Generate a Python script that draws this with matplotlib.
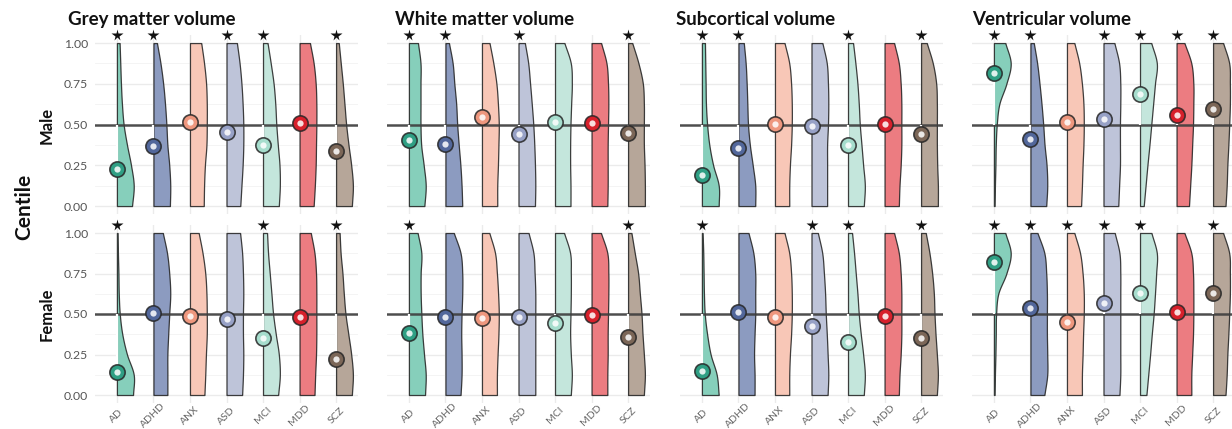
import numpy as np
import matplotlib
matplotlib.use("Agg")
import matplotlib.pyplot as plt
import matplotlib.transforms as mtransforms

plt.rcParams["font.family"] = ["Lato", "DejaVu Sans"]

# ---------------------------------------------------------------- data
groups = ["AD", "ADHD", "ANX", "ASD", "MCI", "MDD", "SCZ"]
measures = ["Grey matter volume", "White matter volume",
            "Subcortical volume", "Ventricular volume"]
sexes = ["Male", "Female"]

# centile levels at which the relative density (violin width) is given
levels = [0.0, 0.125, 0.25, 0.375, 0.5, 0.625, 0.75, 0.875, 1.0]

# median centile per diagnostic group
grey_male_median = [0.225, 0.37, 0.513, 0.456, 0.374, 0.507, 0.34]
grey_female_median = [0.14, 0.508, 0.488, 0.467, 0.35, 0.483, 0.222]
white_male_median = [0.405, 0.38, 0.544, 0.44, 0.513, 0.507, 0.446]
white_female_median = [0.38, 0.483, 0.477, 0.48, 0.446, 0.494, 0.36]
subcort_male_median = [0.19, 0.354, 0.501, 0.493, 0.374, 0.501, 0.442]
subcort_female_median = [0.148, 0.51, 0.48, 0.426, 0.33, 0.49, 0.354]
ventr_male_median = [0.818, 0.409, 0.513, 0.534, 0.687, 0.558, 0.593]
ventr_female_median = [0.823, 0.539, 0.453, 0.57, 0.628, 0.514, 0.632]

# groups flagged as significant
grey_male_sig = ["AD", "ADHD", "ASD", "MCI", "SCZ"]
grey_female_sig = ["AD", "MCI", "SCZ"]
white_male_sig = ["AD", "ADHD", "ASD", "SCZ"]
white_female_sig = ["AD", "SCZ"]
subcort_male_sig = ["AD", "ADHD", "MCI", "SCZ"]
subcort_female_sig = ["AD", "ASD", "MCI", "SCZ"]
ventr_male_sig = ["AD", "ADHD", "ASD", "MCI", "MDD", "SCZ"]
ventr_female_sig = ["AD", "ADHD", "ANX", "ASD", "MCI", "SCZ"]

# relative density of centiles (bottom -> top), one row per group
grey_male_density = [
    [0.90, 1.00, 0.84, 0.60, 0.40, 0.30, 0.24, 0.20, 0.16],
    [0.98, 1.00, 0.94, 0.83, 0.77, 0.69, 0.58, 0.42, 0.21],
    [0.82, 0.84, 0.89, 0.98, 1.00, 1.00, 0.96, 0.84, 0.67],
    [0.82, 0.89, 0.96, 1.00, 1.00, 0.96, 0.89, 0.78, 0.62],
    [0.94, 1.00, 0.98, 0.88, 0.79, 0.73, 0.63, 0.46, 0.27],
    [0.84, 0.91, 0.96, 0.98, 1.00, 1.00, 0.96, 0.84, 0.62],
    [0.94, 1.00, 0.90, 0.74, 0.60, 0.50, 0.40, 0.28, 0.16],
]
grey_female_density = [
    [0.96, 1.00, 0.60, 0.32, 0.17, 0.11, 0.09, 0.06, 0.04],
    [0.83, 0.83, 0.83, 0.88, 0.94, 1.00, 0.94, 0.81, 0.56],
    [0.86, 0.91, 0.95, 1.00, 1.00, 0.98, 0.91, 0.75, 0.52],
    [0.93, 0.98, 1.00, 0.98, 0.98, 1.00, 0.98, 0.93, 0.81],
    [0.90, 1.00, 0.94, 0.76, 0.60, 0.50, 0.40, 0.30, 0.24],
    [0.89, 0.93, 0.98, 1.00, 1.00, 1.00, 0.98, 0.89, 0.67],
    [0.94, 1.00, 0.90, 0.73, 0.56, 0.46, 0.38, 0.27, 0.21],
]
white_male_density = [
    [0.92, 1.00, 0.88, 0.73, 0.69, 0.69, 0.69, 0.69, 0.54],
    [1.00, 0.96, 0.89, 0.79, 0.70, 0.64, 0.53, 0.43, 0.21],
    [0.91, 0.91, 0.95, 0.98, 1.00, 0.95, 0.86, 0.68, 0.45],
    [0.98, 1.00, 0.98, 0.94, 0.88, 0.79, 0.69, 0.58, 0.38],
    [0.92, 0.92, 0.90, 0.90, 0.92, 0.96, 1.00, 0.94, 0.56],
    [0.94, 0.96, 0.96, 0.96, 0.98, 1.00, 0.98, 0.89, 0.57],
    [1.00, 1.00, 0.98, 0.94, 0.94, 0.94, 0.88, 0.62, 0.25],
]
white_female_density = [
    [0.96, 1.00, 0.90, 0.80, 0.74, 0.70, 0.70, 0.74, 0.52],
    [0.90, 0.96, 0.96, 0.94, 0.96, 1.00, 1.00, 0.90, 0.50],
    [0.89, 0.89, 0.93, 0.98, 1.00, 0.96, 0.89, 0.78, 0.44],
    [1.00, 1.00, 1.00, 1.00, 1.00, 1.00, 0.96, 0.89, 0.60],
    [0.94, 1.00, 0.94, 0.90, 0.92, 0.94, 0.94, 0.90, 0.54],
    [0.94, 0.94, 0.96, 0.96, 0.98, 1.00, 1.00, 0.94, 0.56],
    [0.94, 1.00, 0.94, 0.86, 0.80, 0.70, 0.60, 0.40, 0.20],
]
subcort_male_density = [
    [1.00, 1.00, 0.67, 0.44, 0.31, 0.24, 0.22, 0.20, 0.18],
    [1.00, 1.00, 0.85, 0.68, 0.57, 0.53, 0.49, 0.43, 0.32],
    [0.85, 0.85, 0.89, 0.96, 1.00, 1.00, 0.96, 0.85, 0.57],
    [0.93, 0.93, 0.93, 0.93, 0.98, 1.00, 0.98, 0.91, 0.65],
    [0.94, 1.00, 0.90, 0.80, 0.70, 0.64, 0.56, 0.44, 0.30],
    [0.85, 0.89, 0.96, 1.00, 1.00, 1.00, 0.96, 0.85, 0.57],
    [1.00, 1.00, 0.96, 0.94, 0.94, 0.94, 0.90, 0.70, 0.34],
]
subcort_female_density = [
    [1.00, 0.88, 0.52, 0.31, 0.17, 0.12, 0.10, 0.08, 0.04],
    [0.96, 0.96, 0.93, 0.96, 1.00, 1.00, 1.00, 0.89, 0.60],
    [0.85, 0.85, 0.89, 0.96, 1.00, 1.00, 0.96, 0.85, 0.57],
    [0.96, 1.00, 0.96, 0.91, 0.85, 0.81, 0.74, 0.64, 0.38],
    [0.94, 1.00, 0.90, 0.76, 0.64, 0.56, 0.46, 0.36, 0.24],
    [0.85, 0.89, 0.96, 1.00, 1.00, 1.00, 0.96, 0.85, 0.57],
    [0.94, 1.00, 0.94, 0.86, 0.80, 0.76, 0.66, 0.50, 0.28],
]
ventr_male_density = [
    [0.04, 0.06, 0.09, 0.11, 0.17, 0.32, 0.74, 1.00, 0.68],
    [0.94, 1.00, 0.96, 0.84, 0.76, 0.66, 0.54, 0.40, 0.20],
    [0.84, 0.89, 0.93, 0.98, 1.00, 0.98, 0.89, 0.73, 0.44],
    [0.88, 0.93, 0.98, 0.98, 0.98, 1.00, 1.00, 0.93, 0.65],
    [0.22, 0.33, 0.44, 0.56, 0.67, 0.78, 0.89, 1.00, 0.67],
    [0.74, 0.81, 0.88, 0.93, 0.98, 1.00, 1.00, 0.88, 0.47],
    [0.74, 0.81, 0.85, 0.91, 0.96, 1.00, 1.00, 0.96, 0.60],
]
ventr_female_density = [
    [0.04, 0.06, 0.09, 0.11, 0.13, 0.26, 0.74, 1.00, 0.68],
    [0.83, 1.00, 1.00, 0.98, 0.98, 0.98, 0.94, 0.83, 0.42],
    [0.89, 0.89, 0.93, 0.96, 1.00, 1.00, 0.93, 0.78, 0.44],
    [0.95, 1.00, 1.00, 1.00, 1.00, 1.00, 1.00, 0.95, 0.67],
    [0.38, 0.49, 0.60, 0.70, 0.81, 0.89, 0.96, 1.00, 0.68],
    [0.88, 0.88, 0.93, 0.98, 1.00, 1.00, 0.98, 0.88, 0.47],
    [0.74, 0.81, 0.85, 0.91, 0.96, 1.00, 1.00, 0.96, 0.60],
]

violin_colors = ["#86cfbb", "#8c9bc0", "#f8c7b7", "#bec4d9",
                 "#c4e6dc", "#ec7c81", "#b6a699"]
point_colors = ["#2f9f84", "#52679b", "#ee977e", "#97a1c6",
                "#a6ddcd", "#d7202b", "#7b6657"]

medians = {
    (0, 0): grey_male_median, (0, 1): grey_female_median,
    (1, 0): white_male_median, (1, 1): white_female_median,
    (2, 0): subcort_male_median, (2, 1): subcort_female_median,
    (3, 0): ventr_male_median, (3, 1): ventr_female_median,
}
densities = {
    (0, 0): grey_male_density, (0, 1): grey_female_density,
    (1, 0): white_male_density, (1, 1): white_female_density,
    (2, 0): subcort_male_density, (2, 1): subcort_female_density,
    (3, 0): ventr_male_density, (3, 1): ventr_female_density,
}
significant = {
    (0, 0): grey_male_sig, (0, 1): grey_female_sig,
    (1, 0): white_male_sig, (1, 1): white_female_sig,
    (2, 0): subcort_male_sig, (2, 1): subcort_female_sig,
    (3, 0): ventr_male_sig, (3, 1): ventr_female_sig,
}


def smooth_profile(xk, yk, n=240):
    """Cubic Hermite curve through the density knots."""
    xk = np.asarray(xk, float)
    yk = np.asarray(yk, float)
    m = np.empty_like(yk)
    m[1:-1] = (yk[2:] - yk[:-2]) / (xk[2:] - xk[:-2])
    m[0] = (yk[1] - yk[0]) / (xk[1] - xk[0])
    m[-1] = (yk[-1] - yk[-2]) / (xk[-1] - xk[-2])
    x = np.linspace(xk[0], xk[-1], n)
    idx = np.clip(np.searchsorted(xk, x, side="right") - 1, 0, len(xk) - 2)
    h = xk[idx + 1] - xk[idx]
    t = (x - xk[idx]) / h
    h00 = 2 * t**3 - 3 * t**2 + 1
    h10 = t**3 - 2 * t**2 + t
    h01 = -2 * t**3 + 3 * t**2
    h11 = t**3 - t**2
    y = (h00 * yk[idx] + h10 * h * m[idx] + h01 * yk[idx + 1]
         + h11 * h * m[idx + 1])
    return x, np.clip(y, 0.005, None)


# ---------------------------------------------------------------- layout
W, H = 1232, 429
fig = plt.figure(figsize=(W / 100, H / 100), dpi=100)

col_left_px = [95, 387, 680, 972]
col_width_px = 263
row_box_px = [(34.9, 214.2), (224.9, 403.1)]   # (top, bottom) in pixels
title_x_px = [68, 395, 676, 972]

half_width = 0.46
x = np.arange(1, len(groups) + 1)

for c, measure in enumerate(measures):
    for r, sex in enumerate(sexes):
        top, bot = row_box_px[r]
        ax = fig.add_axes([col_left_px[c] / W, 1 - bot / H,
                           col_width_px / W, (bot - top) / H])
        ax.set_xlim(0.4, 7.6)
        ax.set_ylim(-0.05, 1.05)
        for s in ax.spines.values():
            s.set_visible(False)

        # grid
        ax.set_yticks([0, 0.25, 0.5, 0.75, 1.0])
        ax.set_yticks([0.125, 0.375, 0.625, 0.875], minor=True)
        ax.set_xticks(x)
        ax.grid(True, which="major", color="#ebebeb", lw=1.0, zorder=0)
        ax.grid(True, which="minor", axis="y", color="#f3f3f3", lw=0.6,
                zorder=0)
        ax.set_axisbelow(True)
        ax.tick_params(which="both", length=0)

        if c == 0:
            ax.set_yticklabels(["0.00", "0.25", "0.50", "0.75", "1.00"],
                               fontsize=8.8, color="#555555")
            ax.tick_params(axis="y", pad=5)
        else:
            ax.set_yticklabels([])

        if r == 1:
            labels = ax.set_xticklabels(groups, rotation=45, ha="center",
                                        va="center", fontsize=7.5,
                                        color="#666666")
            shift = mtransforms.ScaledTranslation(3 / 100, 0,
                                                  fig.dpi_scale_trans)
            for lab in labels:
                lab.set_transform(lab.get_transform() + shift)
            ax.tick_params(axis="x", pad=9)
        else:
            ax.set_xticklabels([])

        med = medians[(c, r)]
        dens = densities[(c, r)]
        sig = significant[(c, r)]

        # half violins
        for i, g in enumerate(groups):
            yy, ww = smooth_profile(levels, dens[i])
            ax.fill_betweenx(yy, x[i], x[i] + half_width * ww,
                             facecolor=violin_colors[i],
                             edgecolor=(0.12, 0.12, 0.12, 0.85),
                             lw=0.9, zorder=2)

        # reference line at the 50th centile
        ax.axhline(0.5, color="#3d3d3d", lw=1.8, alpha=0.9, zorder=3)

        # deviation of the median from 0.5, then the median itself
        for i, g in enumerate(groups):
            ax.plot([x[i], x[i]], [0.5, med[i]], color="white", lw=1.6,
                    solid_capstyle="butt", zorder=4)
            ax.plot(x[i], med[i], "o", ms=11, mfc=point_colors[i],
                    mec=(0.15, 0.15, 0.15, 0.85), mew=1.2, zorder=5)
            ax.plot(x[i], med[i], "o", ms=4.5, mfc="white", mec="none",
                    alpha=0.85, zorder=6)
            if g in sig:
                ax.plot(x[i], 1.05, marker="*", ms=8.5, color="#111111",
                        mec="none", zorder=6, clip_on=False)

    fig.text(title_x_px[c] / W, 1 - 25 / H, measure, fontsize=13.5,
             fontweight="bold", color="#111111", va="baseline", ha="left")

# row and axis labels
fig.text(47 / W, 1 - 125 / H, "Male", rotation=90, fontsize=12,
         fontweight="bold", ha="center", va="center", color="#111111")
fig.text(47 / W, 1 - 314 / H, "Female", rotation=90, fontsize=12,
         fontweight="bold", ha="center", va="center", color="#111111")
fig.text(24 / W, 1 - 207 / H, "Centile", rotation=90, fontsize=15,
         fontweight="bold", ha="center", va="center", color="#111111")

fig.savefig("out.png", dpi=100, facecolor="white")
